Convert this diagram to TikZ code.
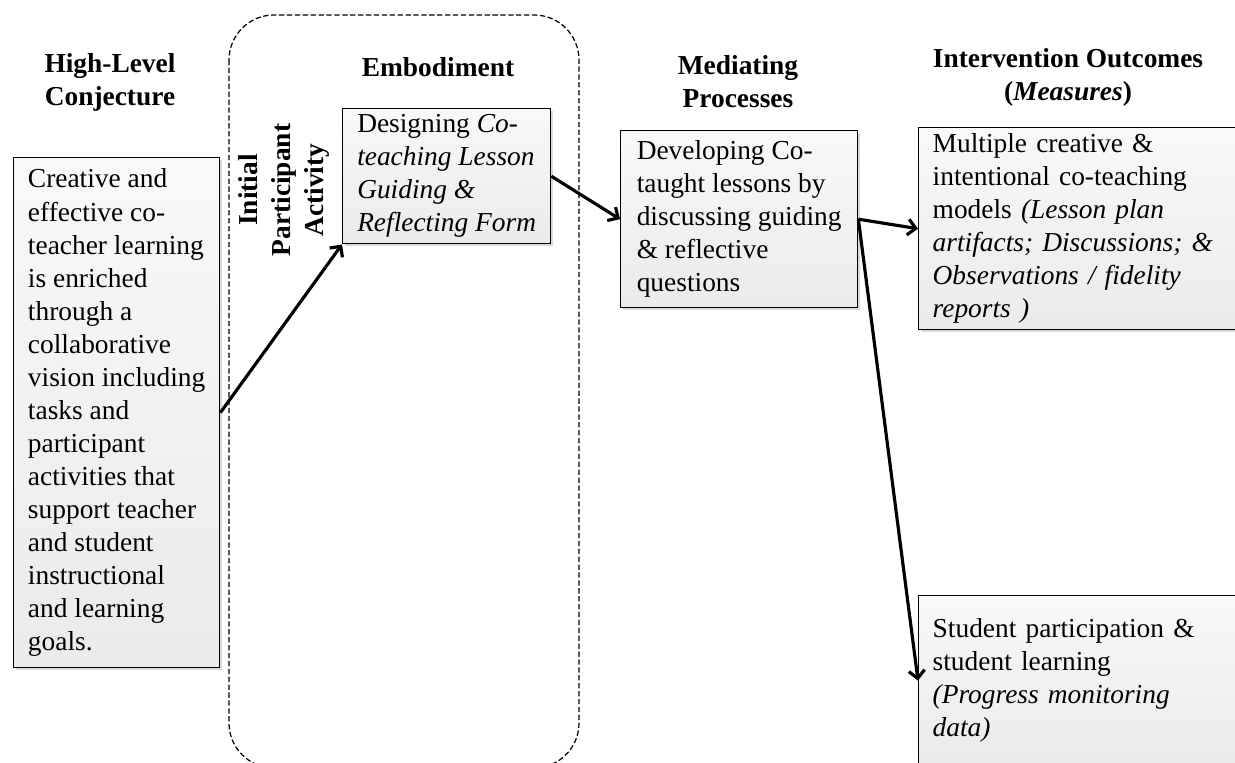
\documentclass[tikz,border=0pt]{standalone}
\usepackage{fontspec}
\setmainfont{Liberation Serif}
\usepackage{tikz}
\usetikzlibrary{arrows.meta}
\usetikzlibrary{shadows}
\usetikzlibrary{positioning}
\tikzstyle{head}=[font=\fontsize{15.6}{18.8}\selectfont\bfseries,align=center,inner sep=0mm]
\tikzstyle{stage}=[rectangle,anchor=north west,draw=black,line width=0.8pt,top color=gray!5,bottom color=gray!16,drop shadow={shadow xshift=0.05cm,shadow yshift=-0.05cm,opacity=0.3},inner xsep=0.28cm,inner ysep=0.12cm]
\tikzstyle{frame}=[draw=black,line width=0.7pt,dash pattern=on 3pt off 1.5pt,rounded corners=0.9cm]
\tikzstyle{arrow}=[-{Straight Barb[length=4.5pt,width=9pt]},line width=1.8pt]
\tikzset{every picture/.style={
    x=0.02cm,y=-0.02cm
  }
}

\begin{document}
\begin{tikzpicture}[font=\fontsize{15.6}{18.8}\selectfont]
      \useasboundingbox (0,0) rectangle (1235,763);
      \draw[frame] (229,15) rectangle (579,768);
      % column headings
      \node[head] at (110,82) (hlchead) {High-Level\\Conjecture};
      \node[head] at (438,67) (embhead) {Embodiment};
      \node[head] at (738,82) (medhead) {Mediating\\Processes};
      \node[head] at (1068,77) (outhead) {Intervention Outcomes\\(\textit{Measures})};
      \node[head,rotate=90] at (284,190) (ipa) {Initial\\Participant\\Activity};
      % boxes
      \node[stage,align=left,minimum width=4.12cm,minimum height=10.2cm] at (13,157) (hlc) {Creative and\\effective co-\\teacher learning\\is enriched\\through a\\collaborative\\vision including\\tasks and\\participant\\activities that\\support teacher\\and student\\instructional\\and learning\\goals.};
      \node[stage,align=left,minimum width=4.16cm,minimum height=2.6cm] at (342,108) (design) {Designing \textit{Co-}\\\textit{teaching Lesson}\\\textit{Guiding \&}\\\textit{Reflecting Form}};
      \node[stage,align=left,minimum width=4.74cm,minimum height=3.54cm] at (620,130) (dev) {Developing Co-\\taught lessons by\\discussing guiding\\\& reflective\\questions};
      \node[stage,align=left,text width=6.04cm,minimum height=4.02cm] at (918,127) (multi) {Multiple creative \&\\intentional co-teaching\\models \textit{(Lesson plan}\\\textit{artifacts; Discussions; \&}\\\textit{Observations / fidelity}\\\textit{reports )}};
      \node[stage,align=left,text width=6.04cm,minimum height=3.4cm] at (918,595) (student) {Student participation \&\\student learning\\\textit{(Progress monitoring}\\\textit{data)}};
      % connectors
      \draw[arrow] (hlc.east) -- (design.south west);
      \draw[arrow] (design.east) -- (dev.west);
      \draw[arrow] (dev.east) -- (multi.west);
      \draw[arrow] (dev.east) -- (student.west);
    \end{tikzpicture}
\end{document}
